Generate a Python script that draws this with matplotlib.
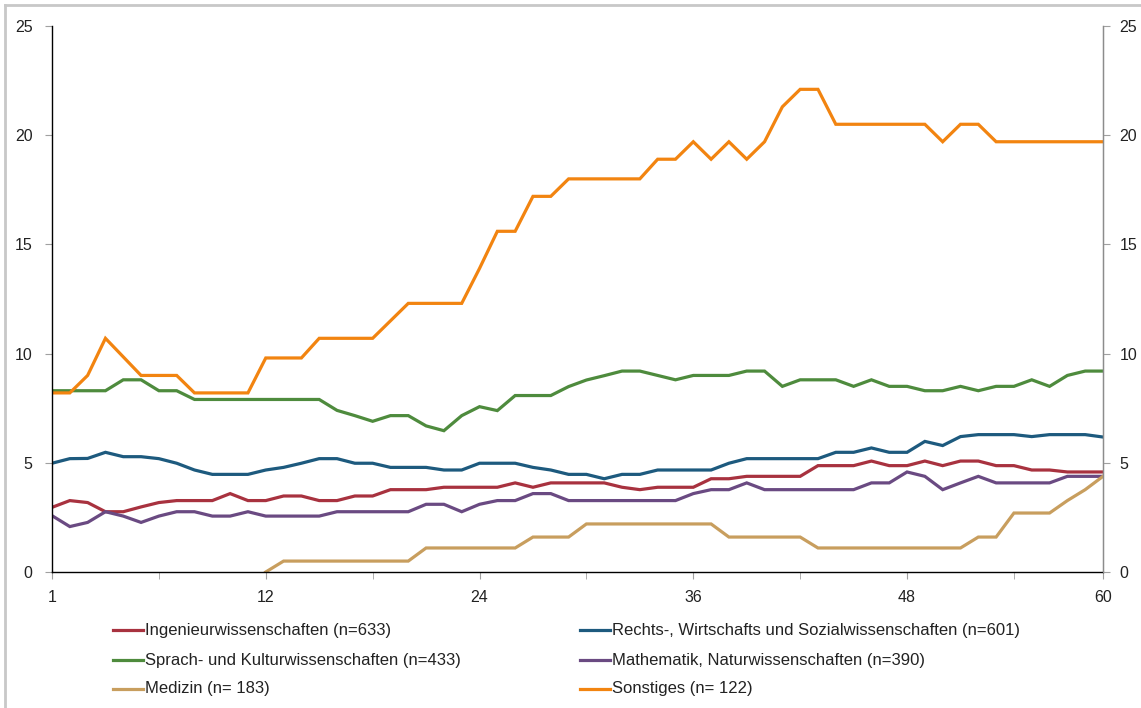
import numpy as np
import matplotlib
matplotlib.use("Agg")
import matplotlib.pyplot as plt
from matplotlib.lines import Line2D
from matplotlib import font_manager

# ---------------- data ----------------
x_labels = ["1", "12", "24", "36", "48", "60"]
n_points = 60

ingenieur = [2.96, 3.27, 3.18, 2.76, 2.76, 2.98, 3.18, 3.27, 3.27, 3.27,
             3.59, 3.27, 3.27, 3.48, 3.48, 3.27, 3.27, 3.48, 3.48, 3.77,
             3.77, 3.77, 3.88, 3.88, 3.88, 3.88, 4.08, 3.88, 4.08, 4.08,
             4.08, 4.08, 3.88, 3.77, 3.88, 3.88, 3.88, 4.27, 4.27, 4.38,
             4.38, 4.38, 4.38, 4.87, 4.87, 4.87, 5.08, 4.87, 4.87, 5.08,
             4.87, 5.08, 5.08, 4.87, 4.87, 4.67, 4.67, 4.58, 4.58, 4.58]

rechts = [4.98, 5.19, 5.20, 5.48, 5.28, 5.28, 5.19, 4.98, 4.67, 4.47,
          4.47, 4.47, 4.67, 4.79, 4.98, 5.19, 5.19, 4.98, 4.98, 4.79,
          4.79, 4.79, 4.67, 4.67, 4.98, 4.98, 4.98, 4.79, 4.67, 4.47,
          4.47, 4.27, 4.47, 4.47, 4.67, 4.67, 4.67, 4.67, 4.98, 5.19,
          5.19, 5.19, 5.19, 5.19, 5.48, 5.48, 5.68, 5.48, 5.48, 5.98,
          5.79, 6.20, 6.29, 6.29, 6.29, 6.20, 6.29, 6.29, 6.29, 6.18]

sprach = [8.3, 8.3, 8.3, 8.3, 8.8, 8.8, 8.3, 8.3, 7.9, 7.9,
          7.9, 7.9, 7.9, 7.9, 7.9, 7.9, 7.4, 7.16, 6.9, 7.16,
          7.16, 6.69, 6.47, 7.16, 7.57, 7.39, 8.08, 8.08, 8.08, 8.49,
          8.79, 8.99, 9.2, 9.2, 9.0, 8.8, 9.0, 9.0, 9.0, 9.2,
          9.2, 8.5, 8.8, 8.8, 8.8, 8.5, 8.8, 8.5, 8.5, 8.3,
          8.3, 8.5, 8.3, 8.5, 8.5, 8.8, 8.5, 9.0, 9.2, 9.2]

mathematik = [2.58, 2.08, 2.27, 2.76, 2.56, 2.27, 2.56, 2.76, 2.76, 2.56,
              2.56, 2.76, 2.56, 2.56, 2.56, 2.56, 2.76, 2.76, 2.76, 2.76,
              2.76, 3.10, 3.10, 2.76, 3.10, 3.27, 3.27, 3.59, 3.59, 3.27,
              3.27, 3.27, 3.27, 3.27, 3.27, 3.27, 3.59, 3.77, 3.77, 4.08,
              3.77, 3.77, 3.77, 3.77, 3.77, 3.77, 4.08, 4.08, 4.58, 4.38,
              3.77, 4.08, 4.38, 4.08, 4.08, 4.08, 4.08, 4.38, 4.38, 4.38]

medizin = [np.nan] * 12 + [0.0, 0.5, 0.5, 0.5, 0.5, 0.5, 0.5, 0.5,
           0.5, 1.1, 1.1, 1.1, 1.1, 1.1, 1.1, 1.6, 1.6, 1.6,
           2.2, 2.2, 2.2, 2.2, 2.2, 2.2, 2.2, 2.2, 1.6, 1.6,
           1.6, 1.6, 1.6, 1.1, 1.1, 1.1, 1.1, 1.1, 1.1, 1.1,
           1.1, 1.1, 1.6, 1.6, 2.7, 2.7, 2.7, 3.27, 3.77, 4.38]

sonstiges = [8.2, 8.2, 9.0, 10.7, 9.85, 9.0, 9.0, 9.0, 8.2, 8.2,
             8.2, 8.2, 9.8, 9.8, 9.8, 10.7, 10.7, 10.7, 10.7, 11.5,
             12.3, 12.3, 12.3, 12.3, 13.9, 15.6, 15.6, 17.2, 17.2, 18.0,
             18.0, 18.0, 18.0, 18.0, 18.9, 18.9, 19.7, 18.9, 19.7, 18.9,
             19.7, 21.3, 22.1, 22.1, 20.5, 20.5, 20.5, 20.5, 20.5, 20.5,
             19.7, 20.5, 20.5, 19.7, 19.7, 19.7, 19.7, 19.7, 19.7, 19.7]

series_labels = ["Ingenieurwissenschaften (n=633)",
                 "Rechts-, Wirtschafts und Sozialwissenschaften (n=601)",
                 "Sprach- und Kulturwissenschaften (n=433)",
                 "Mathematik, Naturwissenschaften (n=390)",
                 "Medizin (n= 183)",
                 "Sonstiges (n= 122)"]
series_values = [ingenieur, rechts, sprach, mathematik, medizin, sonstiges]
series_colors = ["#A8323F", "#1D5A7E", "#4E8B3D", "#6A4A82", "#C89E5E", "#F28410"]

# ---------------- fonts ----------------
avail = {f.name for f in font_manager.fontManager.ttflist}
base_font = ["Liberation Sans", "DejaVu Sans"]
narrow_font = (["Liberation Sans Narrow", "DejaVu Sans"]
               if "Liberation Sans Narrow" in avail else base_font)
plt.rcParams["font.family"] = base_font

# ---------------- figure ----------------
W, H = 1141, 708
fig = plt.figure(figsize=(W / 100, H / 100), dpi=100)
fig.patch.set_facecolor("white")

L, R, T, B = 52, 1103, 26, 572
ax = fig.add_axes([L / W, 1 - B / H, (R - L) / W, (B - T) / H])

x = np.arange(n_points)
for vals, col in zip(series_values, series_colors):
    ax.plot(x, vals, color=col, lw=2.3, solid_joinstyle="miter")

ax.set_xlim(0, n_points - 1)
ax.set_ylim(0, 25)

ax.set_xticks([0, 12, 24, 36, 48, 59])
ax.set_xticklabels(x_labels)
ax.set_xticks(np.arange(0, n_points, 6), minor=True)
ax.tick_params(axis="x", which="both", direction="out", length=5,
               color="#A0A0A0", labelsize=11.5, pad=8, labelcolor="#222222")
ax.set_yticks(np.arange(0, 26, 5))
ax.tick_params(axis="y", direction="out", length=5, color="#A0A0A0",
               labelsize=11.5, pad=9, labelcolor="#222222")

for s in ["left", "bottom"]:
    ax.spines[s].set_color("black")
    ax.spines[s].set_linewidth(1.0)
ax.spines["top"].set_visible(False)
ax.spines["right"].set_color("#8C8C8C")
ax.spines["right"].set_linewidth(1.0)

ax2 = ax.twinx()
ax2.set_ylim(0, 25)
ax2.set_yticks(np.arange(0, 26, 5))
ax2.tick_params(axis="y", direction="out", length=5, color="#A0A0A0",
                labelsize=11.5, pad=7, labelcolor="#222222")
for s in ["left", "bottom", "top"]:
    ax2.spines[s].set_visible(False)
ax2.spines["right"].set_color("#8C8C8C")

# ---------------- legend ----------------
col_x = [113, 580]
row_y = [630, 660, 689]
for k, (lab, col) in enumerate(zip(series_labels, series_colors)):
    cx = col_x[k % 2]
    ry = row_y[k // 2]
    fig.add_artist(Line2D([cx / W, (cx + 30) / W], [1 - ry / H, 1 - ry / H],
                          color=col, lw=2.3, transform=fig.transFigure))
    fig.text((cx + 32) / W, 1 - ry / H, lab, fontsize=12, family=narrow_font,
             va="center", ha="left", color="#222222")

# ---------------- outer frame (left & top) ----------------
fig.add_artist(Line2D([5 / W, 5 / W], [0, 1 - 5 / H], color="#C8C8C8", lw=2,
                      transform=fig.transFigure))
fig.add_artist(Line2D([5 / W, 1], [1 - 5 / H, 1 - 5 / H], color="#C8C8C8", lw=2,
                      transform=fig.transFigure))

fig.savefig("out.png", dpi=100)
